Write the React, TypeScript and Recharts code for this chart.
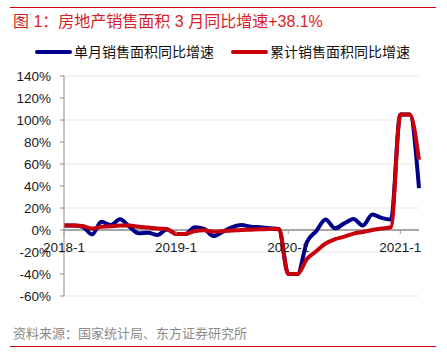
import React from 'react';
import { LineChart, Line, XAxis, YAxis, CartesianGrid, ReferenceLine } from 'recharts';

const months = [
  '2018-1', '2018-2', '2018-3', '2018-4', '2018-5', '2018-6', '2018-7', '2018-8', '2018-9', '2018-10', '2018-11', '2018-12',
  '2019-1', '2019-2', '2019-3', '2019-4', '2019-5', '2019-6', '2019-7', '2019-8', '2019-9', '2019-10', '2019-11', '2019-12',
  '2020-1', '2020-2', '2020-3', '2020-4', '2020-5', '2020-6', '2020-7', '2020-8', '2020-9', '2020-10', '2020-11', '2020-12',
  '2021-1', '2021-2', '2021-3',
];

// 单月销售面积同比增速 (%)
const monthlyYoy = [
  4.1, 4.1, 3.0, -4.0, 7.5, 4.5, 9.7, 3.0, -3.0, -2.5, -4.5, 0.5,
  -3.6, -3.6, 2.5, 1.0, -5.5, -1.5, 2.5, 4.5, 3.0, 2.5, 1.5, 1.0,
  -39.9, -39.9, -11.0, -1.0, 9.5, 1.5, 6.0, 10.0, 4.0, 14.0, 11.0, 9.5,
  104.9, 104.9, 38.1,
];

// 累计销售面积同比增速 (%)
const cumulativeYoy = [
  4.1, 4.1, 3.6, 1.3, 2.9, 3.3, 4.2, 4.1, 2.9, 2.2, 1.4, 1.0,
  -3.6, -3.6, -0.9, -0.3, -1.6, -1.0, -0.5, 0.0, 0.3, 0.6, 0.9, 1.0,
  -39.9, -39.9, -26.3, -19.3, -12.3, -8.4, -6.0, -3.3, -1.8, 0.0, 1.3, 2.6,
  104.9, 104.9, 63.8,
];

const yTicks = [-60, -40, -20, 0, 20, 40, 60, 80, 100, 120, 140];

const seriesNames = ['单月销售面积同比增速', '累计销售面积同比增速'];
const seriesColors = ['#00008b', '#c8000a'];

const data = months.map((m, i) => ({ month: m, monthly: monthlyYoy[i], cumulative: cumulativeYoy[i] }));

const Y_MIN = -60;
const Y_MAX = 140;
const PLOT_H = 220;
const zeroOffset = (PLOT_H * (0 - Y_MIN)) / (Y_MAX - Y_MIN);

const latin = '"Liberation Sans", Arial, sans-serif';
const cjk = '"Liberation Sans", "Noto Sans CJK SC", sans-serif';

// x labels sit under the 0% line, not at the bottom of the plot
const XTick = (props: any) => {
  const { x, y, payload } = props;
  const y0 = y - zeroOffset;
  return (
    <g>
      <line x1={x} x2={x} y1={y0} y2={y0 + 4} stroke="#9a9a9a" strokeWidth={1} />
      <text x={x} y={y0 + 21.5} textAnchor="middle" fontSize={13.5} fontFamily={latin} fill="#1a1a1a">
        {payload.value}
      </text>
    </g>
  );
};

export default function App() {
  return (
    <div style={{ position: 'absolute', left: 0, top: 0, width: 447, height: 354, background: '#fff', fontFamily: cjk }}>
      <div style={{ position: 'absolute', left: 10, top: 7, width: 426, height: 1, background: '#d7000f' }} />
      <div style={{ position: 'absolute', left: 13, top: 12, fontSize: 16, lineHeight: '20px', color: '#d81e28', whiteSpace: 'nowrap' }}>
        图 1：房地产销售面积 3 月同比增速+38.1%
      </div>

      <div style={{ position: 'absolute', left: 35, top: 42, display: 'flex', alignItems: 'center', gap: 17 }}>
        {seriesNames.map((name, i) => (
          <div key={name} style={{ display: 'flex', alignItems: 'center' }}>
            <div style={{ width: 37, height: 4, background: seriesColors[i], borderRadius: 2, marginRight: 2 }} />
            <span style={{ fontSize: 14, lineHeight: '20px', color: '#111', whiteSpace: 'nowrap' }}>{name}</span>
          </div>
        ))}
      </div>

      <div style={{ position: 'absolute', left: 0, top: 60 }}>
        <LineChart width={447} height={270} data={data} margin={{ top: 16, right: 28, bottom: 14, left: 0 }}>
          <CartesianGrid horizontal vertical={false} stroke="#e6e6e6" strokeWidth={1} />
          <XAxis
            dataKey="month"
            interval={11}
            height={20}
            axisLine={false}
            tickLine={false}
            tickSize={0}
            tickMargin={0}
            tick={<XTick />}
          />
          <YAxis
            type="number"
            domain={[Y_MIN, Y_MAX]}
            ticks={yTicks}
            width={64}
            tickFormatter={(v: number) => `${v}%`}
            axisLine={{ stroke: '#8c8c8c' }}
            tickLine={{ stroke: '#8c8c8c' }}
            tickSize={4}
            tickMargin={9}
            tick={{ fontSize: 13.5, fontFamily: latin, fill: '#1a1a1a' }}
          />
          <ReferenceLine y={0} stroke="#a6a6a6" strokeWidth={2} />
          <Line
            type="monotone"
            dataKey="monthly"
            name={seriesNames[0]}
            stroke={seriesColors[0]}
            strokeWidth={4}
            dot={false}
            isAnimationActive={false}
          />
          <Line
            type="monotone"
            dataKey="cumulative"
            name={seriesNames[1]}
            stroke={seriesColors[1]}
            strokeWidth={4}
            dot={false}
            isAnimationActive={false}
          />
        </LineChart>
      </div>

      <div style={{ position: 'absolute', left: 13, top: 325, fontSize: 13, lineHeight: '18px', color: '#8a8a8a', whiteSpace: 'nowrap' }}>
        资料来源：国家统计局、东方证券研究所
      </div>
      <div style={{ position: 'absolute', left: 10, top: 346, width: 426, height: 1, background: '#d7000f' }} />
    </div>
  );
}
